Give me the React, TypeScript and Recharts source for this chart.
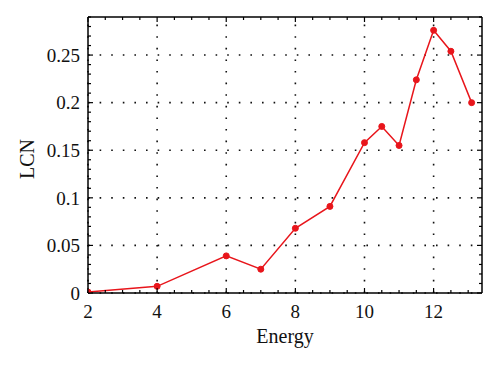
import { LineChart, Line, XAxis, YAxis, ReferenceLine } from 'recharts'

const energy = [2, 4, 6, 7, 8, 9, 10, 10.5, 11, 11.5, 12, 12.5, 13.1]
const lcn = [0.001, 0.007, 0.039, 0.025, 0.068, 0.091, 0.158, 0.175, 0.155, 0.224, 0.276, 0.254, 0.2]

const xMajor = [2, 4, 6, 8, 10, 12]
const xMinor = [2, 2.5, 3, 3.5, 4, 4.5, 5, 5.5, 6, 6.5, 7, 7.5, 8, 8.5, 9, 9.5, 10, 10.5, 11, 11.5, 12, 12.5, 13]
const yMajor = [0, 0.05, 0.1, 0.15, 0.2, 0.25]
const yMinor = [
  0, 0.01, 0.02, 0.03, 0.04, 0.05, 0.06, 0.07, 0.08, 0.09, 0.1, 0.11, 0.12, 0.13, 0.14,
  0.15, 0.16, 0.17, 0.18, 0.19, 0.2, 0.21, 0.22, 0.23, 0.24, 0.25, 0.26, 0.27, 0.28, 0.29,
]

const data = energy.map((e, i) => ({ energy: e, lcn: lcn[i] }))

const FONT = '"Liberation Serif", "Times New Roman", serif'
const RED = '#e8151b'
const MAJOR_LEN = 5
const MINOR_LEN = 3

// tickSize + tickMargin, so the frame can be found from the tick label position
const BOTTOM_GAP = 12
const SIDE_GAP = 8

function BottomTick(props: any) {
  const { x, y, payload } = props
  const v = payload.value
  const major = xMajor.includes(v)
  const base = y - BOTTOM_GAP
  return (
    <g>
      <line x1={x} x2={x} y1={base} y2={base - (major ? MAJOR_LEN : MINOR_LEN)} stroke="#000" strokeWidth={1.2} />
      {major && (
        <text x={x} y={y} dy="0.71em" textAnchor="middle" fontFamily={FONT} fontSize={19} fill="#111">
          {v}
        </text>
      )}
    </g>
  )
}

function TopTick(props: any) {
  const { x, y, payload } = props
  const major = xMajor.includes(payload.value)
  const base = y + SIDE_GAP
  return <line x1={x} x2={x} y1={base} y2={base + (major ? MAJOR_LEN : MINOR_LEN)} stroke="#000" strokeWidth={1.2} />
}

function LeftTick(props: any) {
  const { x, y, payload } = props
  const v = payload.value
  const major = yMajor.includes(v)
  const base = x + SIDE_GAP
  return (
    <g>
      <line x1={base} x2={base + (major ? MAJOR_LEN : MINOR_LEN)} y1={y} y2={y} stroke="#000" strokeWidth={1.2} />
      {major && (
        <text x={x} y={y} dy="0.355em" textAnchor="end" fontFamily={FONT} fontSize={19} fill="#111">
          {v}
        </text>
      )}
    </g>
  )
}

function RightTick(props: any) {
  const { x, y, payload } = props
  const major = yMajor.includes(payload.value)
  const base = x - SIDE_GAP
  return <line x1={base} x2={base - (major ? MAJOR_LEN : MINOR_LEN)} y1={y} y2={y} stroke="#000" strokeWidth={1.2} />
}

function YLabel(props: any) {
  const vb = props.viewBox
  const cx = vb.x - 1
  const cy = vb.y + vb.height / 2 + 4
  return (
    <text
      x={cx}
      y={cy}
      transform={`rotate(-90, ${cx}, ${cy})`}
      textAnchor="middle"
      dominantBaseline="central"
      fontFamily={FONT}
      fontSize={20}
      fill="#111"
    >
      LCN
    </text>
  )
}

const frame = { stroke: '#000', strokeWidth: 1.5 }

export default function App() {
  return (
    <div style={{ position: 'absolute', left: 0, top: 0, background: '#fff' }}>
      <LineChart width={500} height={365} data={data} margin={{ top: 16, right: 17, bottom: 22, left: 28 }}>
        <XAxis
          xAxisId="x"
          dataKey="energy"
          type="number"
          domain={[2, 13.4]}
          allowDataOverflow
          ticks={xMinor}
          interval={0}
          height={50}
          tickSize={6}
          tickMargin={6}
          tickLine={false}
          axisLine={frame}
          tick={BottomTick}
          label={{ value: 'Energy', position: 'insideBottom', offset: 0, fontFamily: FONT, fontSize: 20, fill: '#111' }}
        />
        <XAxis
          xAxisId="top"
          dataKey="energy"
          orientation="top"
          type="number"
          domain={[2, 13.4]}
          allowDataOverflow
          ticks={xMinor}
          interval={0}
          height={1}
          tickSize={6}
          tickMargin={2}
          tickLine={false}
          axisLine={frame}
          tick={TopTick}
        />
        <YAxis
          yAxisId="y"
          type="number"
          domain={[0, 0.29]}
          allowDataOverflow
          ticks={yMinor}
          interval={0}
          width={60}
          tickSize={6}
          tickMargin={2}
          tickLine={false}
          axisLine={frame}
          tick={LeftTick}
          label={<YLabel />}
        />
        <YAxis
          yAxisId="right"
          orientation="right"
          type="number"
          domain={[0, 0.29]}
          allowDataOverflow
          ticks={yMinor}
          interval={0}
          width={1}
          tickSize={6}
          tickMargin={2}
          tickLine={false}
          axisLine={frame}
          tick={RightTick}
        />
        {xMajor.map((v) => (
          <ReferenceLine
            key={`gx${v}`}
            xAxisId="x"
            yAxisId="y"
            x={v}
            stroke="#111"
            strokeWidth={1.6}
            strokeDasharray="1.6 10"
          />
        ))}
        {yMajor.map((v) => (
          <ReferenceLine
            key={`gy${v}`}
            xAxisId="x"
            yAxisId="y"
            y={v}
            stroke="#111"
            strokeWidth={1.6}
            strokeDasharray="1.6 10"
          />
        ))}
        {/* invisible series so the top and right frame axes get a scale */}
        <Line
          xAxisId="top"
          yAxisId="right"
          dataKey="lcn"
          stroke="none"
          dot={false}
          activeDot={false}
          legendType="none"
          isAnimationActive={false}
        />
        <Line
          xAxisId="x"
          yAxisId="y"
          type="linear"
          dataKey="lcn"
          stroke={RED}
          strokeWidth={1.5}
          dot={{ r: 3, fill: RED, stroke: RED, strokeWidth: 1 }}
          isAnimationActive={false}
        />
      </LineChart>
    </div>
  )
}
